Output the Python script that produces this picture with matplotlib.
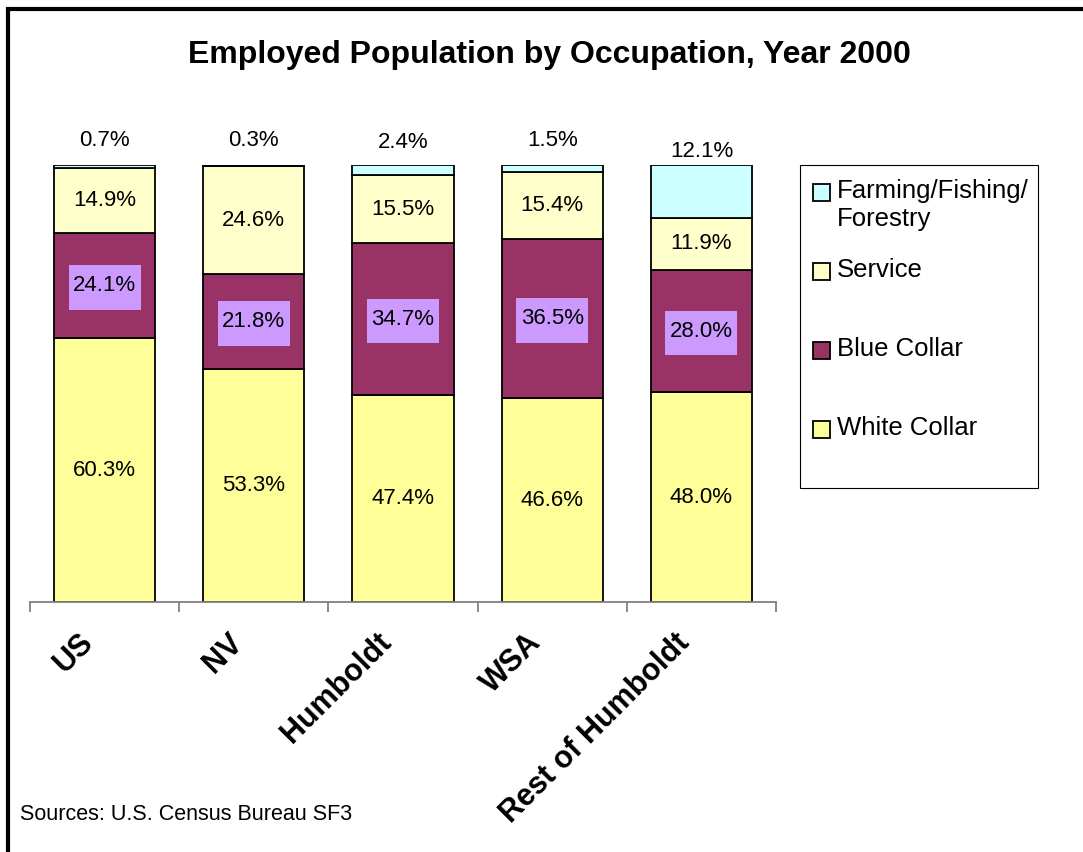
import matplotlib
matplotlib.use("Agg")
import matplotlib.pyplot as plt
from matplotlib.patches import Rectangle
from matplotlib.path import Path
from matplotlib.legend_handler import HandlerPatch
from matplotlib.transforms import ScaledTranslation
import numpy as np

plt.rcParams['font.family'] = ['Liberation Sans', 'DejaVu Sans']

# ---- data ----
categories = ["US", "NV", "Humboldt", "WSA", "Rest of Humboldt"]
white_collar = [60.3, 53.3, 47.4, 46.6, 48.0]
blue_collar = [24.1, 21.8, 34.7, 36.5, 28.0]
service = [14.9, 24.6, 15.5, 15.4, 11.9]
farming = [0.7, 0.3, 2.4, 1.5, 12.1]
series_names = ["White Collar", "Blue Collar", "Service", "Farming/Fishing/\nForestry"]

title = "Employed Population by Occupation, Year 2000"
source = "Sources: U.S. Census Bureau SF3"

# ---- style ----
colors = ["#FFFF99", "#993366", "#FFFFCC", "#CCFFFF"]
farm_label_offsets = [18, 18, 16.5, 18, 9.5]  # points above bar top

W, H = 1083, 852
fig = plt.figure(figsize=(W / 100, H / 100), dpi=100)
ax = fig.add_axes([30 / W, 1 - 602 / H, (776 - 30) / W, (602 - 165) / H])

x = np.arange(len(categories))
series = [white_collar, blue_collar, service, farming]
bottom = np.zeros(len(categories))
containers = []
for vals, col, name in zip(series, colors, series_names):
    c = ax.bar(x, vals, width=0.677, bottom=bottom, color=col, edgecolor="black",
               linewidth=1.3, label=name)
    containers.append(c)
    bottom = bottom + np.array(vals)

ax.set_xlim(-0.5, len(categories) - 0.5)
ax.set_ylim(0, 100)


def label_box(x0, y0, width, height, mutation_size):
    px = 0.2 * mutation_size
    pt = 0.45 * mutation_size
    pb = 0.62 * mutation_size
    return Path([(x0 - px, y0 - pb), (x0 + width + px, y0 - pb),
                 (x0 + width + px, y0 + height + pt), (x0 - px, y0 + height + pt),
                 (x0 - px, y0 - pb)], closed=True)


lab_fs = 16
for vals, c in [(white_collar, containers[0]), (service, containers[2])]:
    ax.bar_label(c, labels=[f"{v:.1f}%" for v in vals], label_type="center",
                 fontsize=lab_fs)
ax.bar_label(containers[1], labels=[f"{v:.1f}%" for v in blue_collar],
             label_type="center", fontsize=lab_fs,
             bbox=dict(boxstyle=label_box, facecolor="#CC99FF", edgecolor="none"))
tops = np.array(white_collar) + np.array(blue_collar) + np.array(service) + np.array(farming)
for i, (v, t) in enumerate(zip(farming, tops)):
    ax.annotate(f"{v:.1f}%", xy=(i, t), xytext=(0, farm_label_offsets[i]),
                textcoords="offset points", ha="center", va="center", fontsize=lab_fs)

# axes styling
for s in ["left", "right", "top"]:
    ax.spines[s].set_visible(False)
ax.spines["bottom"].set_color("#808080")
ax.spines["bottom"].set_linewidth(1.3)
ax.set_yticks([])
ax.set_xticks(np.arange(-0.5, len(categories)), [""] * (len(categories) + 1))
ax.tick_params(axis="x", which="major", length=7.5, width=1.3, color="#808080",
               direction="out")
ax.set_xticks(x, categories, minor=True)
ax.tick_params(axis="x", which="minor", length=0, pad=26)
off = ScaledTranslation(-16 / 100, 0, fig.dpi_scale_trans)
for lbl in ax.get_xticklabels(minor=True):
    lbl.set_rotation(45)
    lbl.set_ha("right")
    lbl.set_va("center")
    lbl.set_rotation_mode("anchor")
    lbl.set_fontsize(22)
    lbl.set_fontweight("bold")
    lbl.set_transform(lbl.get_transform() + off)

# legend
leg_fs = 18.5


def make_patch(legend, orig_handle, xdescent, ydescent, width, height, fontsize):
    return Rectangle((-xdescent, -ydescent + 0.5 * fontsize), width, height)


handles = containers[::-1]
labels = [series_names[3], "Service\n", "Blue Collar\n", "White Collar\n"]
leg = fig.legend([h.patches[0] for h in handles], labels,
                 loc="upper left", bbox_to_anchor=(799 / W, 1 - 165 / H),
                 fontsize=leg_fs, frameon=False,
                 handlelength=0.66, handleheight=0.66,
                 handletextpad=0.27, labelspacing=1.06, borderpad=0.55,
                 borderaxespad=0,
                 handler_map={Rectangle: HandlerPatch(patch_func=make_patch)})
leg_frame = Rectangle((800 / W, 1 - 488 / H), (1038 - 800) / W, (488 - 165) / H,
                      transform=fig.transFigure, fill=True, facecolor="white",
                      edgecolor="black", linewidth=0.8, zorder=0)
fig.add_artist(leg_frame)

# title and source
fig.text(549 / W, 1 - 55 / H, title, ha="center", va="center", fontsize=23,
         fontweight="bold")
fig.text(20 / W, 1 - 815 / H, source, ha="left", va="center", fontsize=15.5)

# outer frame
frame = Rectangle((8 / W, -0.1), 1.2, 1 - 9 / H + 0.1, transform=fig.transFigure,
                  fill=False, edgecolor="black", linewidth=3, clip_on=False)
fig.add_artist(frame)

fig.savefig("out.png", dpi=100)
